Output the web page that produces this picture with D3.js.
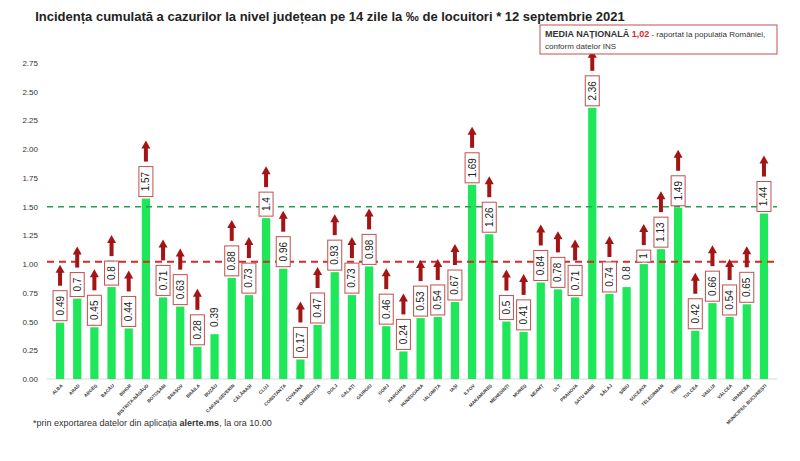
<!DOCTYPE html>
<html><head><meta charset="utf-8">
<script src="https://cdn.jsdelivr.net/npm/d3@7"></script>
<style>body{margin:0;background:#fff;font-family:"Liberation Sans",Arial,sans-serif}</style>
</head><body>
<script>
var width = 800, height = 461;

var counties = ["ALBA","ARAD","ARGEȘ","BACĂU","BIHOR","BISTRIȚA-NĂSĂUD","BOTOȘANI","BRAȘOV","BRĂILA","BUZĂU","CARAȘ-SEVERIN","CĂLĂRAȘI","CLUJ","CONSTANȚA","COVASNA","DÂMBOVIȚA","DOLJ","GALAȚI","GIURGIU","GORJ","HARGHITA","HUNEDOARA","IALOMIȚA","IAȘI","ILFOV","MARAMUREȘ","MEHEDINȚI","MUREȘ","NEAMȚ","OLT","PRAHOVA","SATU MARE","SĂLAJ","SIBIU","SUCEAVA","TELEORMAN","TIMIȘ","TULCEA","VASLUI","VÂLCEA","VRANCEA","MUNICIPIUL BUCUREȘTI"];
var values = [0.49,0.7,0.45,0.8,0.44,1.57,0.71,0.63,0.28,0.39,0.88,0.73,1.4,0.96,0.17,0.47,0.93,0.73,0.98,0.46,0.24,0.53,0.54,0.67,1.69,1.26,0.5,0.41,0.84,0.78,0.71,2.36,0.74,0.8,1,1.13,1.49,0.42,0.66,0.54,0.65,1.44];
// counties with a rising trend (arrow + boxed label)
var rising = [1,1,1,1,1,1,1,1,1,0,1,1,1,1,1,1,1,1,1,1,1,1,1,1,1,1,1,1,1,1,1,1,1,0,1,1,1,1,1,1,1,1];
var yTicks = [0,0.25,0.5,0.75,1,1.25,1.5,1.75,2,2.25,2.5,2.75];
var nationalAvg = 1.02, threshold = 1.5;

var svg = d3.select("body").append("svg").attr("width", width).attr("height", height);

var x = d3.scaleBand().domain(counties).range([47, 777]).padding(0.52);
var y = d3.scaleLinear().domain([0, 2.75]).range([379, 63]);

svg.append("text").attr("x", 330).attr("y", 21).attr("text-anchor", "middle")
  .attr("font-size", 13).attr("font-weight", "bold").attr("fill", "#222")
  .text("Incidența cumulată a cazurilor la nivel județean pe 14 zile la ‰ de locuitori * 12 septembrie 2021");

// y axis labels
svg.selectAll(".yt").data(yTicks).enter().append("text")
  .attr("x", 38).attr("y", d => y(d) + 3).attr("text-anchor", "end")
  .attr("font-size", 8).attr("fill", "#333").text(d => d.toFixed(2));

svg.append("line").attr("x1", 47).attr("x2", 777).attr("y1", y(0)).attr("y2", y(0))
  .attr("stroke", "#d9d9d9");

// bars
svg.selectAll(".bar").data(values).enter().append("rect")
  .attr("x", (d, i) => x(counties[i])).attr("width", x.bandwidth())
  .attr("y", d => y(d)).attr("height", d => y(0) - y(d)).attr("fill", "#1ee85a");

// reference lines
svg.append("line").attr("x1", 47).attr("x2", 777).attr("y1", y(threshold)).attr("y2", y(threshold))
  .attr("stroke", "#2a9d55").attr("stroke-width", 1.5).attr("stroke-dasharray", "6,5");
svg.append("line").attr("x1", 47).attr("x2", 777).attr("y1", y(nationalAvg)).attr("y2", y(nationalAvg))
  .attr("stroke", "#d42a2a").attr("stroke-width", 2).attr("stroke-dasharray", "7,5");

// value labels + arrows
values.forEach(function(v, i) {
  var cx = x(counties[i]) + x.bandwidth() / 2;
  var txt = String(v);
  var len = txt.length * 6 + 6;
  var bottom = y(v) - 2;
  var g = svg.append("g");
  if (rising[i]) {
    g.append("rect").attr("x", cx - 7).attr("y", bottom - len).attr("width", 14).attr("height", len)
      .attr("fill", "#fff").attr("stroke", "#c0504d").attr("stroke-width", 1);
  }
  g.append("text").attr("transform", "translate(" + (cx + 3.5) + "," + (bottom - len / 2) + ") rotate(-90)")
    .attr("text-anchor", "middle").attr("font-size", 10).attr("fill", "#222").text(txt);
  if (rising[i]) {
    var top = bottom - len - 5;
    g.append("rect").attr("x", cx - 2).attr("y", top - 14).attr("width", 4).attr("height", 14).attr("fill", "#a31515");
    g.append("path").attr("d", "M" + (cx - 4.5) + "," + (top - 13) + "L" + cx + "," + (top - 21) + "L" + (cx + 4.5) + "," + (top - 13) + "Z")
      .attr("fill", "#a31515");
  }
});

// x labels
svg.selectAll(".xl").data(counties).enter().append("text")
  .attr("transform", d => "translate(" + (x(d) + x.bandwidth() / 2 + 3) + ",386) rotate(-45)")
  .attr("text-anchor", "end").attr("font-size", 4.6).attr("font-weight", "bold").attr("fill", "#333").text(d => d);

// legend box
svg.append("rect").attr("x", 540).attr("y", 25).attr("width", 237).attr("height", 29)
  .attr("fill", "#fff").attr("stroke", "#c0504d");
var t1 = svg.append("text").attr("x", 545).attr("y", 37).attr("font-size", 8).attr("fill", "#333");
t1.append("tspan").attr("font-weight", "bold").attr("font-size", 9).text("MEDIA NAȚIONALĂ ");
t1.append("tspan").attr("font-weight", "bold").attr("font-size", 9).attr("fill", "#d42a2a").text("1,02");
t1.append("tspan").text(" - raportat la populația României,");
svg.append("text").attr("x", 545).attr("y", 49).attr("font-size", 8).attr("fill", "#333").text("conform datelor INS");

var f = svg.append("text").attr("x", 33).attr("y", 426).attr("font-size", 9).attr("fill", "#333");
f.append("tspan").text("*prin exportarea datelor din aplicația ");
f.append("tspan").attr("font-weight", "bold").text("alerte.ms");
f.append("tspan").text(", la ora 10.00");
</script>
</body></html>
